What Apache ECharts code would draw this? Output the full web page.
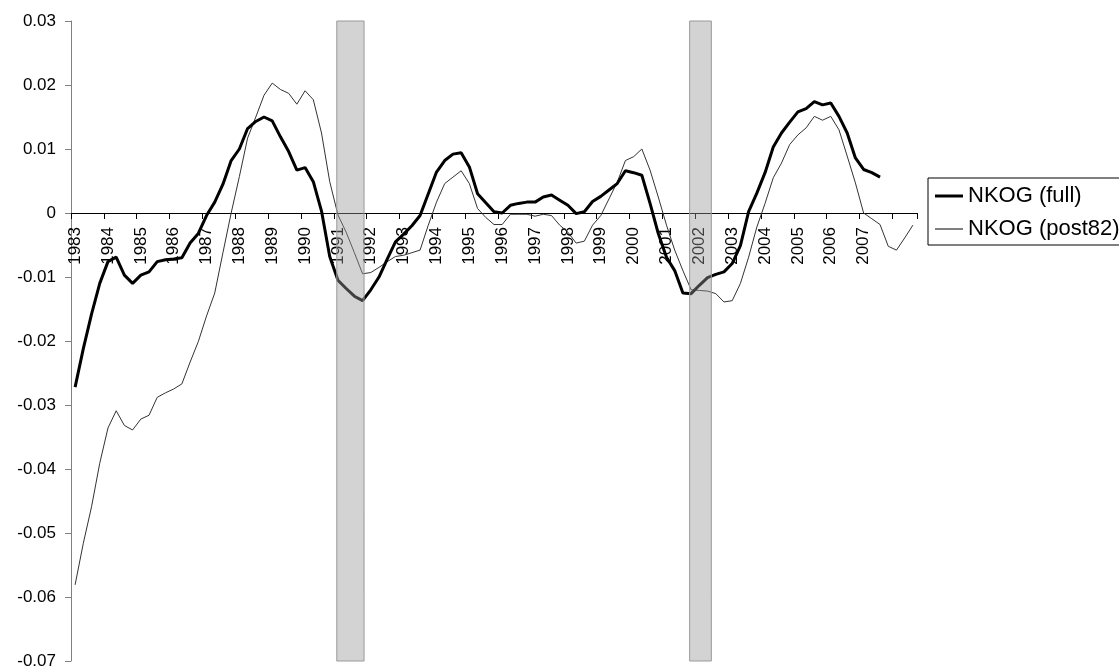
<!DOCTYPE html>
<html>
<head>
<meta charset="utf-8">
<script src="https://cdn.jsdelivr.net/npm/echarts@6/dist/echarts.min.js"></script>
<style>
html,body{margin:0;padding:0;background:#fff;}
#chart{width:1119px;height:667px;}
</style>
</head>
<body>
<div id="chart"></div>
<script>
// Year labels shown on the category axis (Q1 of each year)
var yearLabels = ['1983','1984','1985','1986','1987','1988','1989','1990','1991','1992','1993','1994','1995',
  '1996','1997','1998','1999','2000','2001','2002','2003','2004','2005','2006','2007'];
var firstYear = 1983;
var quarterCount = 103; // 1983Q1 .. 2008Q3

// NKOG (full) – quarterly
var nkogFull = [
 -0.0272,-0.0212,-0.0158,-0.0110,-0.0076,-0.0069,-0.0097,-0.0110,-0.0097,-0.0092,
 -0.0076,-0.0073,-0.0072,-0.0070,-0.0047,-0.0032,-0.0004,0.0017,0.0045,0.0082,
 0.0100,0.0132,0.0143,0.0150,0.0144,0.0119,0.0096,0.0067,0.0071,0.0049,
 0.0003,-0.0068,-0.0105,-0.0118,-0.0130,-0.0137,-0.0120,-0.0100,-0.0072,-0.0045,
 -0.0033,-0.0020,-0.0004,0.0030,0.0064,0.0082,0.0092,0.0094,0.0072,0.0030,
 0.0016,0.0002,0.0000,0.0012,0.0015,0.0017,0.0017,0.0025,0.0028,0.0020,
 0.0012,-0.0001,0.0002,0.0018,0.0026,0.0036,0.0046,0.0066,0.0063,0.0059,
 0.0015,-0.0032,-0.0069,-0.0090,-0.0125,-0.0126,-0.0113,-0.0101,-0.0096,-0.0092,
 -0.0079,-0.0051,0.0002,0.0031,0.0063,0.0103,0.0125,0.0142,0.0158,0.0163,
 0.0174,0.0169,0.0172,0.0151,0.0125,0.0086,0.0068,0.0063,0.0056
];

// NKOG (post82) – quarterly
var nkogPost82 = [
 -0.0581,-0.0516,-0.0459,-0.0391,-0.0336,-0.0309,-0.0332,-0.0339,-0.0322,-0.0316,
 -0.0288,-0.0281,-0.0275,-0.0267,-0.0233,-0.0201,-0.0161,-0.0125,-0.0062,0.0000,
 0.0057,0.0117,0.0150,0.0184,0.0203,0.0193,0.0187,0.0170,0.0191,0.0177,
 0.0125,0.0049,-0.0003,-0.0030,-0.0062,-0.0095,-0.0093,-0.0085,-0.0076,-0.0068,
 -0.0066,-0.0062,-0.0058,-0.0019,0.0017,0.0046,0.0056,0.0066,0.0046,0.0007,
 -0.0007,-0.0018,-0.0018,-0.0002,-0.0002,-0.0002,-0.0005,-0.0002,-0.0004,-0.0019,
 -0.0030,-0.0047,-0.0044,-0.0019,-0.0004,0.0022,0.0048,0.0082,0.0088,0.0100,
 0.0067,0.0025,-0.0019,-0.0058,-0.0090,-0.0120,-0.0121,-0.0122,-0.0126,-0.0139,
 -0.0137,-0.0110,-0.0069,-0.0022,0.0015,0.0055,0.0078,0.0107,0.0122,0.0133,
 0.0151,0.0145,0.0151,0.0130,0.0089,0.0047,0.0000,-0.0009,-0.0018,-0.0052,
 -0.0058,-0.0039,-0.0019
];

// Shaded periods (in fractional years)
var shadeStart = [1991.09, 2001.83];
var shadeEnd   = [1991.92, 2002.49];

var yMin = -0.07, yMax = 0.03, yStep = 0.01;

// build quarterly categories
var categories = [];
for (var i = 0; i < quarterCount; i++) {
  categories.push((firstYear + Math.floor(i / 4)) + ' Q' + (i % 4 + 1));
}
var shadeData = shadeStart.map(function (s, k) { return [s, shadeEnd[k]]; });

var gridTop = 21, gridHeight = 640;
// move the category axis up to the zero line
var zeroOffset = -gridHeight * (0 - yMin) / (yMax - yMin);

var chart = echarts.init(document.getElementById('chart'), null, {renderer: 'canvas'});
var font = 'Liberation Sans, Arial, sans-serif';

// legend icons: a bar of given thickness centred in a 28x14 box
function lineIcon(t) {
  var y0 = 7 - t / 2, y1 = 7 + t / 2;
  return 'path://M0,' + y0 + 'H28V' + y1 + 'H0Z M0,0H0.01V0.01H0Z M0,14H0.01V13.99H0Z';
}

chart.setOption({
  animation: false,
  backgroundColor: '#ffffff',
  grid: {left: 71, top: gridTop, width: 846, height: gridHeight, containLabel: false, outerBoundsMode: 'none'},
  legend: {
    orient: 'vertical',
    left: 928, top: 178,
    padding: [7, 10, 5, 7],
    itemGap: 11,
    itemWidth: 28, itemHeight: 14,
    borderColor: '#000', borderWidth: 1,
    backgroundColor: '#fff',
    textStyle: {fontFamily: font, fontSize: 22, color: '#000'},
    data: [
      {name: 'NKOG (full)', icon: lineIcon(3), itemStyle: {color: '#000'}},
      {name: 'NKOG (post82)', icon: lineIcon(1), itemStyle: {color: '#000'}}
    ]
  },
  xAxis: [{
    type: 'category',
    data: categories,
    boundaryGap: true,
    position: 'bottom',
    offset: zeroOffset,
    axisLine: {onZero: false, lineStyle: {color: '#000', width: 1}},
    axisTick: {show: true, interval: 3, length: 6, alignWithLabel: false, lineStyle: {color: '#000'}},
    axisLabel: {
      interval: 3, rotate: 90, margin: 14,
      fontFamily: font, fontSize: 17, color: '#000',
      formatter: function (v) {
        var y = v.split(' ')[0];
        return (v.indexOf('Q1') > 0 && yearLabels.indexOf(y) >= 0) ? y : '';
      }
    },
    splitLine: {show: false}
  }, {
    type: 'value',
    min: firstYear, max: firstYear + quarterCount / 4,
    show: false
  }],
  yAxis: {
    type: 'value',
    min: yMin, max: yMax, interval: yStep,
    axisLine: {show: true, onZero: false, lineStyle: {color: '#808080', width: 1}},
    axisTick: {show: true, length: 6, lineStyle: {color: '#808080'}},
    axisLabel: {
      margin: 15, fontFamily: font, fontSize: 17, color: '#000',
      formatter: function (v) { return String(Math.round(v * 100) / 100); }
    },
    splitLine: {show: false}
  },
  series: [{
    name: 'NKOG (full)',
    type: 'line',
    data: nkogFull,
    symbol: 'none',
    lineStyle: {color: '#000', width: 3},
    itemStyle: {color: '#000'},
    z: 3
  }, {
    name: 'NKOG (post82)',
    type: 'line',
    data: nkogPost82,
    symbol: 'none',
    lineStyle: {color: '#333', width: 1},
    itemStyle: {color: '#333'},
    z: 2
  }, {
    name: 'shade',
    type: 'custom',
    xAxisIndex: 1,
    yAxisIndex: 0,
    data: shadeData,
    encode: {x: [0, 1]},
    z: 5,
    silent: true,
    renderItem: function (params, api) {
      var p0 = api.coord([api.value(0), yMax]);
      var p1 = api.coord([api.value(1), yMin]);
      return {
        type: 'rect',
        shape: {x: p0[0], y: p0[1], width: p1[0] - p0[0], height: p1[1] - p0[1]},
        style: {fill: 'rgba(150,150,150,0.42)', stroke: '#9a9a9a', lineWidth: 1}
      };
    }
  }]
});
</script>
</body>
</html>
